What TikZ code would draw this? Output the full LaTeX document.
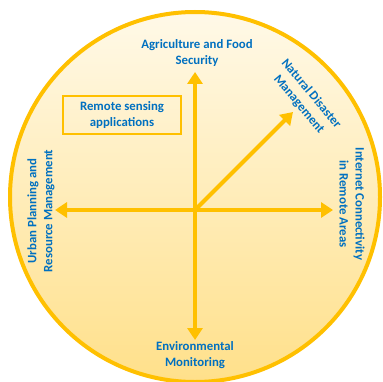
\documentclass[tikz,border=0pt]{standalone}
\usepackage{fontspec}
\setmainfont{Carlito}
\usetikzlibrary{arrows.meta}
\definecolor{gold}{HTML}{FFC000}
\definecolor{txtblue}{HTML}{0070C0}
\definecolor{filltop}{HTML}{FFF9E8}
\definecolor{fillbot}{HTML}{FFE08A}
\begin{document}
\begin{tikzpicture}[x=1pt,y=-1pt,
  lbl/.style={text=txtblue,font=\bfseries\fontsize{12.8}{16}\selectfont,align=center,inner sep=0pt},
  axisarrow/.style={draw=gold,line width=4pt,-{Triangle[width=15pt,length=12pt]}}]
\useasboundingbox (0,0) rectangle (382,382);
\fill[white] (0,0) rectangle (382,382);
\shade[top color=filltop,bottom color=fillbot] (195,197) circle (185);
\draw[gold,line width=4pt] (195,197) circle (185);
\coordinate (o) at (195,210);
\coordinate (n) at (195,72);
\coordinate (s) at (195,340);
\coordinate (e) at (333,210);
\coordinate (w) at (55,210);
\coordinate (ne) at (293,112);
\draw[axisarrow] (o) -- (n);
\draw[axisarrow] (o) -- (s);
\draw[axisarrow] (o) -- (e);
\draw[axisarrow] (o) -- (w);
\draw[axisarrow] (o) -- (ne);
\node[lbl] (agri) at (197,53) {Agriculture and Food\\Security};
\node[lbl] (env) at (195,355) {Environmental\\Monitoring};
\node[lbl,rotate=-50] (nat) at (305,99) {Natural Disaster\\Management};
\node[lbl,rotate=-90] (inet) at (352,204) {Internet Connectivity\\in Remote Areas};
\node[lbl,rotate=90] (urban) at (41,211) {Urban Planning and\\Resource Management};
\node[lbl,draw=gold,line width=1.5pt,minimum width=118pt,minimum height=38pt] (rs) at (122,115) {Remote sensing\\applications};
\end{tikzpicture}
\end{document}
